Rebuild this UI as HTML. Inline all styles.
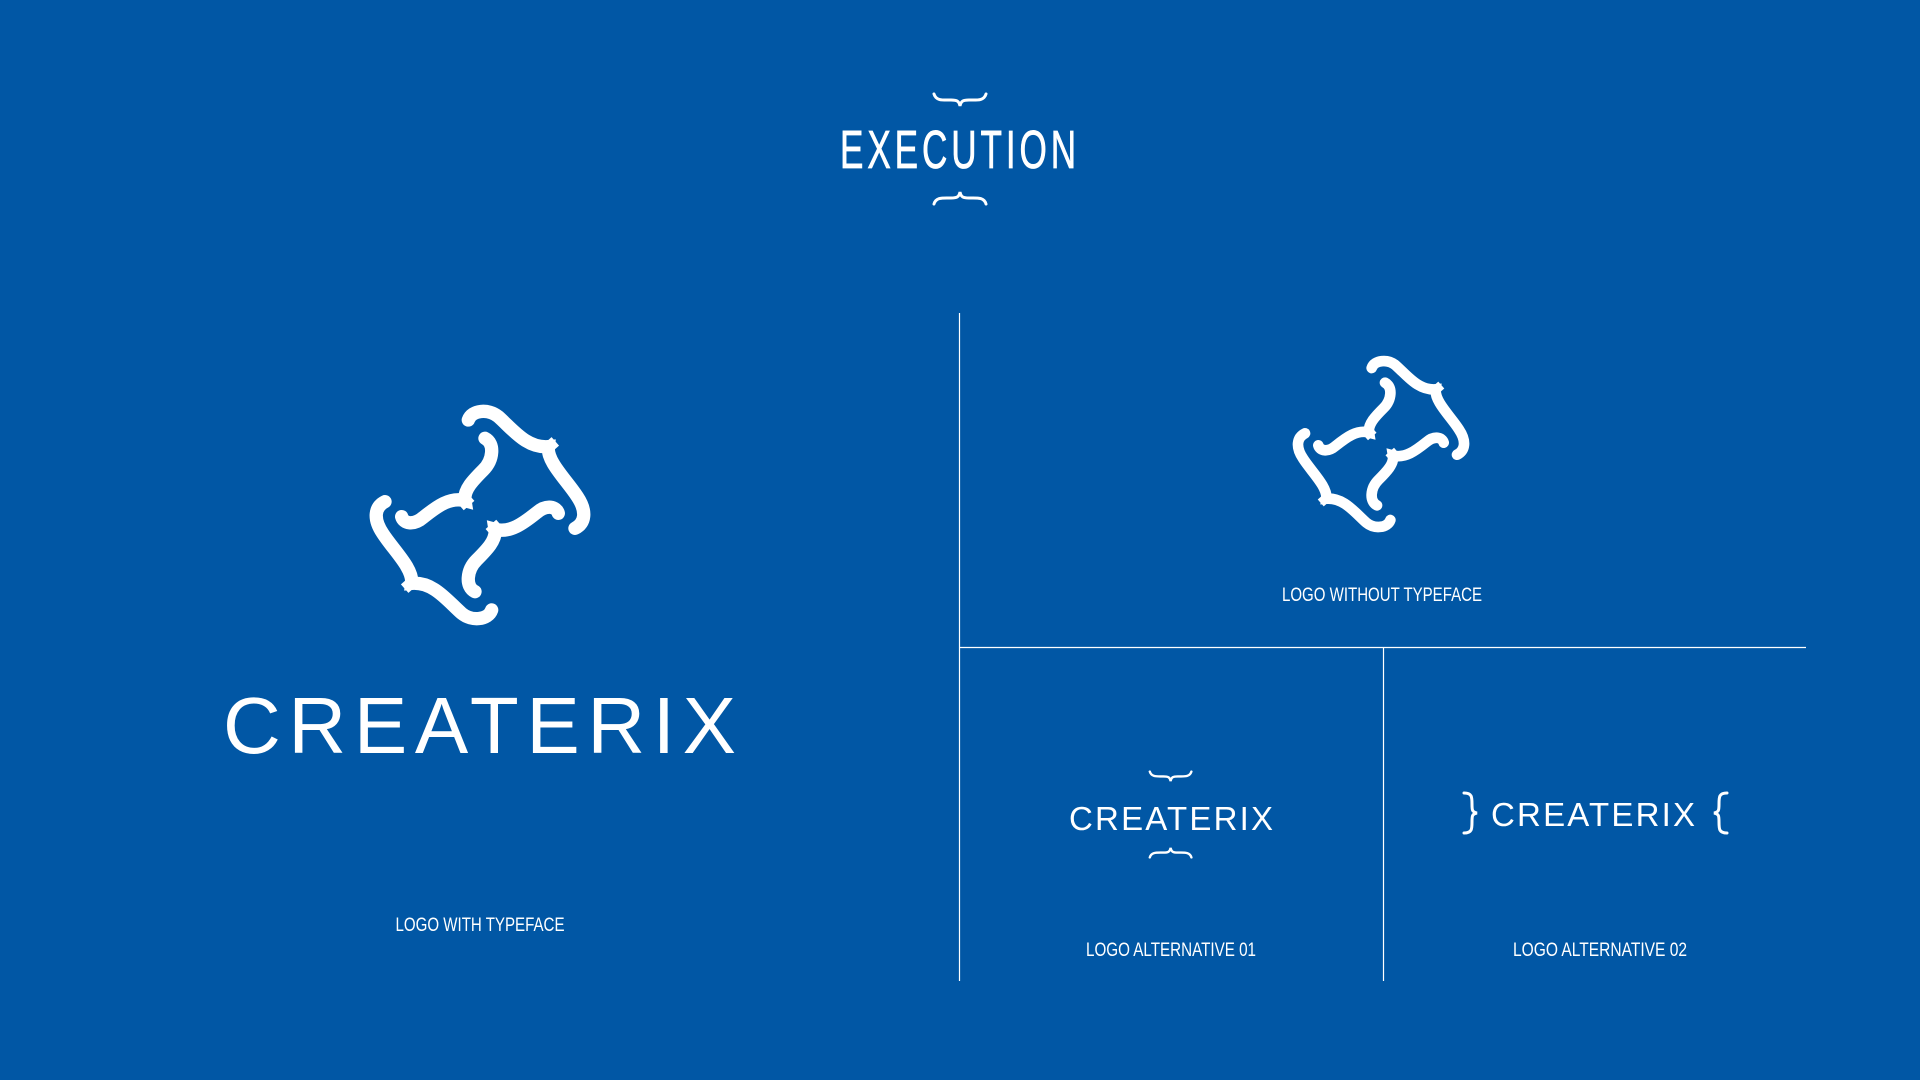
<!DOCTYPE html>
<html><head><meta charset="utf-8"><style>
html,body{margin:0;padding:0;background:#0157A5;}
svg{display:block}
</style></head><body>
<svg width="1920" height="1080" viewBox="0 0 1920 1080" xmlns="http://www.w3.org/2000/svg">
<rect width="1920" height="1080" fill="#0157A5"/>
<defs>
<g id="hb" fill="none" stroke="#fff" stroke-width="3" stroke-linecap="round">
<path d="M1,2 C3,9 10,8 18,8 C24,8 26,9 27,14 C28,9 30,8 36,8 C44,8 51,9 53,2"/>
</g>
<g id="half" fill="none" stroke="#fff" stroke-width="40" stroke-linecap="round">
<path d="M385,120 C395,90 445,85 475,110 C520,150 560,205 625,200 C620,245 680,300 712,350 C742,395 735,430 705,445"/>
<path d="M435,175 C465,190 460,240 430,270 C400,300 370,330 375,362 C330,350 290,380 250,412 C220,438 190,430 185,410"/>
<path d="M612,214 L646,184" stroke-linecap="butt" stroke-width="34"/>
<path d="M360,378 L392,350" stroke-linecap="butt" stroke-width="34"/>
</g>
<g id="logo">
<use href="#half"/>
<use href="#half" transform="rotate(180 420 405)"/>
</g>
</defs>
<g font-family="'Liberation Sans',sans-serif" fill="#fff">
<use href="#hb" transform="translate(933,92)"/>
<text x="960" y="168" font-size="54" letter-spacing="6" text-anchor="middle" textLength="240" lengthAdjust="spacingAndGlyphs" stroke="#fff" stroke-width="0.8">EXECUTION</text>
<use href="#hb" transform="translate(933,206) scale(1,-1)"/>

<line x1="959.5" y1="313" x2="959.5" y2="981" stroke="#fff" stroke-width="1.2"/>
<line x1="959" y1="647.5" x2="1806" y2="647.5" stroke="#fff" stroke-width="1.2"/>
<line x1="1383.5" y1="647" x2="1383.5" y2="981" stroke="#fff" stroke-width="1.2"/>

<use href="#logo" transform="translate(340,380) scale(0.3333)"/>
<use href="#logo" transform="translate(1269,336) scale(0.2667)"/>

<text x="223" y="753" font-size="80" textLength="513" lengthAdjust="spacing">CREATERIX</text>

<text x="480" y="931" font-size="19" text-anchor="middle" textLength="169" lengthAdjust="spacingAndGlyphs">LOGO WITH TYPEFACE</text>
<text x="1382" y="601" font-size="19" text-anchor="middle" textLength="200" lengthAdjust="spacingAndGlyphs">LOGO WITHOUT TYPEFACE</text>
<text x="1171" y="956" font-size="19" text-anchor="middle" textLength="170" lengthAdjust="spacingAndGlyphs">LOGO ALTERNATIVE 01</text>
<text x="1600" y="956" font-size="19" text-anchor="middle" textLength="174" lengthAdjust="spacingAndGlyphs">LOGO ALTERNATIVE 02</text>

<use href="#hb" transform="translate(1149,770) scale(0.8)"/>
<text x="1069" y="830" font-size="33" textLength="204" lengthAdjust="spacing">CREATERIX</text>
<use href="#hb" transform="translate(1149,859) scale(0.8,-0.8)"/>

<g fill="none" stroke="#fff" stroke-width="3" stroke-linecap="round">
<path d="M1464,793 C1472,793 1472,797 1472,804 C1472,810 1472,812 1477,813 C1472,814 1472,816 1472,822 C1472,829 1472,833 1464,833"/>
<path d="M1727,793 C1719,793 1719,797 1719,804 C1719,810 1719,812 1714,813 C1719,814 1719,816 1719,822 C1719,829 1719,833 1727,833"/>
</g>
<text x="1491" y="826" font-size="33" textLength="204" lengthAdjust="spacing">CREATERIX</text>
</g>
</svg>
</body></html>
